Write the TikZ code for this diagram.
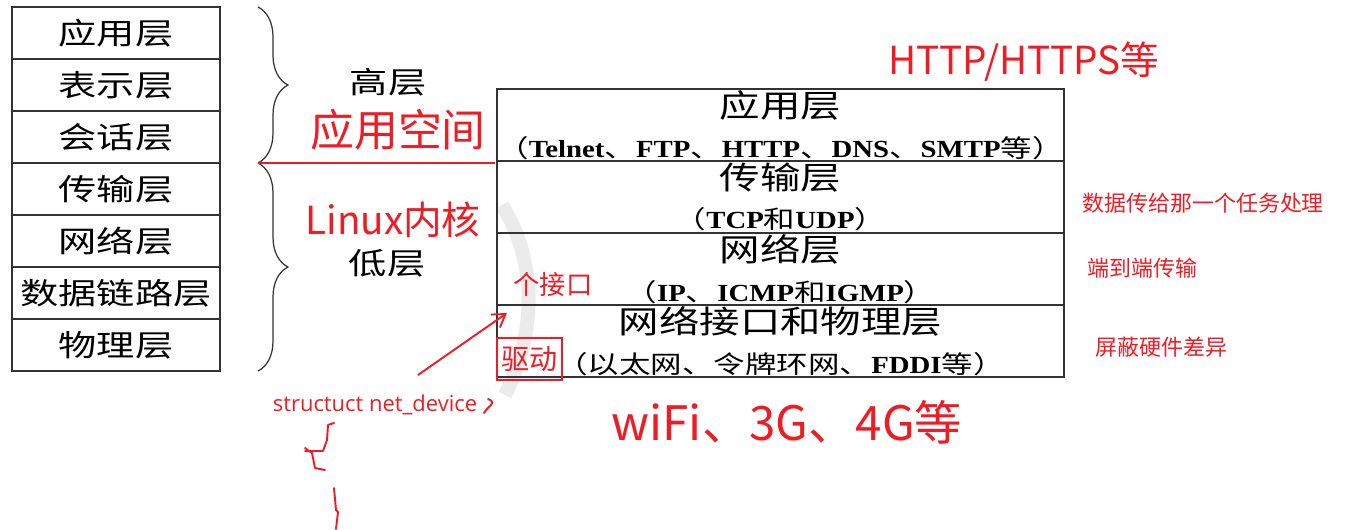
\documentclass[tikz,border=0pt]{standalone}
\usepackage{fontspec}
\setmainfont{Liberation Serif}
\newfontfamily\cjk{Noto Sans CJK SC}
\newfontfamily\cjkw[FakeStretch=1.28]{Noto Sans CJK SC}
\newfontfamily\latw[FakeStretch=1.17]{Liberation Serif}
\newfontfamily\uifont{Open Sans}
\usetikzlibrary{arrows.meta,positioning,decorations.pathreplacing}
\definecolor{notered}{HTML}{EE1C25}
\definecolor{tblline}{HTML}{333333}
\newcommand\latn[1]{{\latw\bfseries #1}}
\newcommand\lyrname{\cjkw\fontsize{18}{23}\selectfont}

\begin{document}
\begin{tikzpicture}[x=0.02cm, y=-0.02cm,
  every node/.style={font=\cjkw},
  osi/.style  ={draw=tblline, line width=0.9pt, minimum width=4.16cm,
                minimum height=1.04cm, inner sep=0pt,
                font=\cjkw\fontsize{17}{20}\selectfont},
  tcpip/.style={draw=tblline, line width=0.9pt, minimum width=11.34cm,
                minimum height=1.44cm, inner sep=0pt, align=center,
                font=\cjkw\fontsize{14}{22.5}\selectfont},
  grp/.style  ={font=\cjkw\fontsize{17}{20}\selectfont},
  brc/.style  ={decorate, decoration={brace, amplitude=0.6cm, aspect=0.5},
                draw=tblline, line width=0.7pt},
  note/.style ={text=notered, font=\cjk\fontsize{12.5}{15}\selectfont,
                anchor=west, inner sep=0pt},
  hand/.style ={text=notered, inner sep=1pt},
  ink/.style  ={draw=notered, line width=1.1pt, line cap=round, line join=round},
  inkarr/.style={ink, -{Straight Barb[length=7pt,width=9pt]}}
]
\useasboundingbox (0,0) rectangle (1348,529);

%% ─── grey mark behind the stack ────────────────────────────────────────────
\draw[gray!16, line width=0.28cm] (502,205) .. controls (537,262) and (537,330) .. (505,395);

%% ─── OSI seven layers ──────────────────────────────────────────────────────
\foreach \t [count=\i] in {应用层,表示层,会话层,传输层,网络层,数据链路层,物理层}
  \node[osi] (osi\i) at (116,{33+52*(\i-1)}) {\t};

\coordinate (hiTop) at (258,7);
\coordinate (hiBot) at (258,163);
\coordinate (loBot) at (258,371);
\draw[brc] (hiTop) -- (hiBot);
\draw[brc] (hiBot) -- (loBot);
\node[grp] (hi) at (388,82)  {高层};
\node[grp] (lo) at (387,263) {低层};

%% ─── TCP/IP four layers ────────────────────────────────────────────────────
\node[tcpip] (app) at (780.5,125) {{\lyrname 应用层}\\（\latn{Telnet}、\latn{FTP}、\latn{HTTP}、\latn{DNS}、\latn{SMTP}等）};
\node[tcpip] (tpt) at (780.5,197) {{\lyrname 传输层}\\（\latn{TCP}和\latn{UDP}）};
\node[tcpip] (net) at (780.5,269) {{\lyrname 网络层}\\（\latn{IP}、\latn{ICMP}和\latn{IGMP}）};
\node[tcpip] (lnk) at (780.5,341) {{\lyrname 网络接口和物理层}\\（以太网、令牌环网、\latn{FDDI}等）};

%% ─── notes on the right ────────────────────────────────────────────────────
\node[note] (n_tpt) at (1082,203) {数据传给那一个任务处理};
\node[note] (n_net) at (1087,268) {端到端传输};
\node[note] (n_lnk) at (1095,347) {屏蔽硬件差异};

%% ─── hand notes ────────────────────────────────────────────────────────────
\node[hand, font=\cjk\fontsize{22}{24}\selectfont] (http) at (1024,62) {HTTP/HTTPS等};
\node[hand, font=\cjk\fontsize{25}{27}\selectfont] (usr)  at (398,130) {应用空间};
\node[hand, font=\cjk\fontsize{22}{24}\selectfont] (kern) at (393,220) {Linux内核};
\node[hand, font=\cjk\fontsize{15}{17}\selectfont] (ifw)  at (553,284) {个接口};
\node[hand, draw=notered, line width=1pt, minimum width=1.3cm, minimum height=0.84cm,
      font=\cjk\fontsize{16}{18}\selectfont] (drv) at (529.5,359) {驱动};
\node[hand, font=\cjk\fontsize{27}{29}\selectfont] (phy)  at (787,422) {wiFi、3G、4G等};
\node[hand, font=\uifont\fontsize{12.5}{14}\selectfont] (dev) at (375,405) {structuct net\_device};

\draw[notered, line width=0.8pt] (hiBot) -- (495,163);

\coordinate (ifc) at (507,313);
\draw[inkarr, shorten <=0.63cm] (dev) -- (ifc);

% rough braces under the struct name
\draw[ink] (488,399) .. controls (494,402) .. (487,409) -- (484,413);
\draw[ink] (334,423) -- (328,425) -- (327,440) -- (323,451) -- (305,451);
\draw[ink] (305,448) -- (312,453) -- (315,468) -- (325,470);
\draw[ink] (334,488) -- (336,510) -- (338,512) -- (336,529);

\end{tikzpicture}
\end{document}
